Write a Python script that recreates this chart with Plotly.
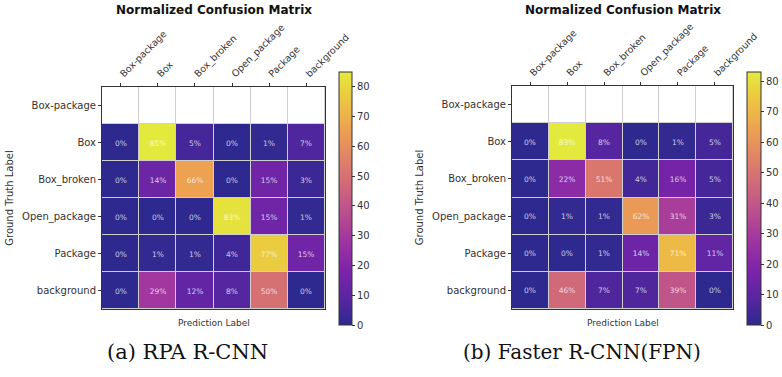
import plotly.graph_objects as go
import plotly.colors as pc

classes = ["Box-package", "Box", "Box_broken", "Open_package", "Package", "background"]
truth_rows = ["Box", "Box_broken", "Open_package", "Package", "background"]

rpa_values = [
    [0, 85, 5, 0, 1, 7],
    [0, 14, 66, 0, 15, 3],
    [0, 0, 0, 83, 15, 1],
    [0, 1, 1, 4, 77, 15],
    [0, 29, 12, 8, 50, 0],
]
faster_values = [
    [0, 83, 8, 0, 1, 5],
    [0, 22, 51, 4, 16, 5],
    [0, 1, 1, 62, 31, 3],
    [0, 0, 1, 14, 71, 11],
    [0, 46, 7, 7, 39, 0],
]
captions = ["(a) RPA R-CNN", "(b) Faster R-CNN(FPN)"]
cbar_ticks = [0, 10, 20, 30, 40, 50, 60, 70, 80]

# plasma, washed out slightly (semi-transparent look)
MIX = 0.8
GRAY = 175
def wash(hexc):
    r, g, b = pc.hex_to_rgb(hexc)
    f = lambda c: round(MIX * c + (1 - MIX) * GRAY)
    return f"rgb({f(r)},{f(g)},{f(b)})"
plasma = pc.sequential.Plasma
cscale = [[i / (len(plasma) - 1), wash(c)] for i, c in enumerate(plasma)]

FONT = "DejaVu Sans"
fig = go.Figure()

panels = [
    dict(vals=rpa_values, xd=[102/782, 325/782], yd=[1-309/377, 1-87/377], cbx=339/782, th=13, ax="x", ay="y"),
    dict(vals=faster_values, xd=[512/782, 733/782], yd=[1-309/377, 1-86/377], cbx=747/782, th=14, ax="x2", ay="y2"),
]

for i, p in enumerate(panels):
    zmax = max(max(r) for r in p["vals"])
    # empty top row (no ground-truth samples)
    fig.add_trace(go.Heatmap(
        x=classes, y=[classes[0]], z=[[0] * len(classes)],
        colorscale=[[0, "white"], [1, "white"]], showscale=False,
        xgap=1, ygap=1, hoverinfo="skip", xaxis=p["ax"], yaxis=p["ay"]))
    fig.add_trace(go.Heatmap(
        x=classes, y=truth_rows, z=p["vals"],
        colorscale=cscale, zmin=0, zmax=zmax,
        xgap=1, ygap=1,
        texttemplate="%{z:.0f}%",
        textfont=dict(family=FONT, size=7.5, color="rgba(255,255,255,0.75)"),
        xaxis=p["ax"], yaxis=p["ay"],
        colorbar=dict(x=p["cbx"], xanchor="left", thickness=p["th"],
                      len=253, lenmode="pixels", y=1-72/377, yanchor="top",
                      tickvals=cbar_ticks, ticks="outside", ticklen=3,
                      tickcolor="#333", outlinecolor="#333", outlinewidth=1,
                      tickfont=dict(family=FONT, size=10, color="#333"),
                      xpad=0, ypad=0),
    ))

layout = dict(
    width=782, height=377, margin=dict(l=0, r=0, t=0, b=0, autoexpand=False),
    paper_bgcolor="white", plot_bgcolor="#cfcfcf",
    showlegend=False,
)
for i, p in enumerate(panels):
    sx = "" if i == 0 else "2"
    layout["xaxis" + sx] = dict(
        domain=p["xd"], anchor="y" + sx, side="top", tickangle=-45,
        categoryorder="array", categoryarray=classes, automargin=False,
        showline=True, linecolor="#333", linewidth=1, mirror=True,
        ticks="outside", ticklen=3, tickcolor="#333",
        tickfont=dict(family=FONT, size=9.5, color="#333"),
        showgrid=False, zeroline=False, fixedrange=True,
    )
    layout["yaxis" + sx] = dict(
        domain=p["yd"], anchor="x" + sx, autorange="reversed",
        categoryorder="array", categoryarray=classes, automargin=False,
        showline=True, linecolor="#333", linewidth=1, mirror=True,
        ticks="outside", ticklen=3, tickcolor="#333",
        tickfont=dict(family=FONT, size=10, color="#333"),
        title=dict(text="Ground Truth Label", font=dict(family=FONT, size=10, color="#333"), standoff=6),
        showgrid=False, zeroline=False, fixedrange=True,
    )
fig.update_layout(**layout)

anns = []
for i, p in enumerate(panels):
    cx = (p["xd"][0] + p["xd"][1]) / 2
    anns.append(dict(text="<b>Normalized Confusion Matrix</b>", x=cx, y=1-10/377, xref="paper", yref="paper",
                     xanchor="center", yanchor="middle", showarrow=False,
                     font=dict(family=FONT, size=12, color="#111")))
    anns.append(dict(text="Prediction Label", x=cx, y=1-323/377, xref="paper", yref="paper",
                     xanchor="center", yanchor="middle", showarrow=False,
                     font=dict(family=FONT, size=9, color="#333")))
capx = [187/782, 582/782]
capsize = [21, 20]
for i, c in enumerate(captions):
    anns.append(dict(text=c, x=capx[i], y=1-352/377, xref="paper", yref="paper",
                     xanchor="center", yanchor="middle", showarrow=False,
                     font=dict(family="DejaVu Serif", size=capsize[i], color="#111")))
fig.update_layout(annotations=anns)

fig.write_html("out.html", config={"displayModeBar": False},
               post_script="document.body.style.margin='0';")
